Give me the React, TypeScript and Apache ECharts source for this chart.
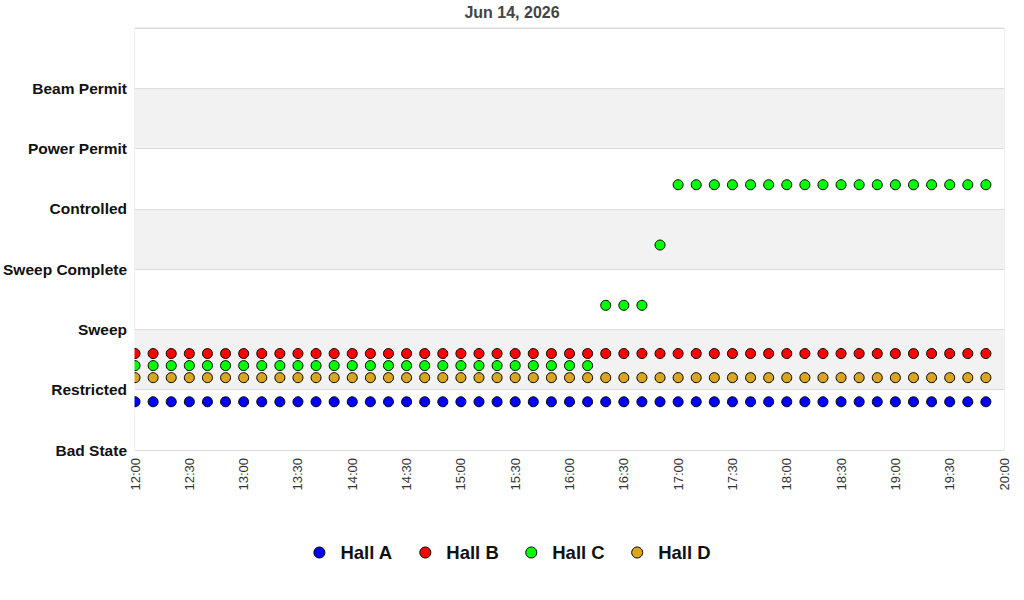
import React, { useEffect, useRef } from "react";
import * as echarts from "echarts";

const title = "Jun 14, 2026";
const stateNames = ["Bad State", "Restricted", "Sweep", "Sweep Complete", "Controlled", "Power Permit", "Beam Permit"];
const times = [
  "12:00", "12:10", "12:20", "12:30", "12:40", "12:50",
  "13:00", "13:10", "13:20", "13:30", "13:40", "13:50",
  "14:00", "14:10", "14:20", "14:30", "14:40", "14:50",
  "15:00", "15:10", "15:20", "15:30", "15:40", "15:50",
  "16:00", "16:10", "16:20", "16:30", "16:40", "16:50",
  "17:00", "17:10", "17:20", "17:30", "17:40", "17:50",
  "18:00", "18:10", "18:20", "18:30", "18:40", "18:50",
  "19:00", "19:10", "19:20", "19:30", "19:40", "19:50",
];
// state index per time (1 = Restricted, 2 = Sweep, 3 = Sweep Complete, 4 = Controlled)
const hallA = [
  1, 1, 1, 1, 1, 1, 1, 1, 1, 1, 1, 1,
  1, 1, 1, 1, 1, 1, 1, 1, 1, 1, 1, 1,
  1, 1, 1, 1, 1, 1, 1, 1, 1, 1, 1, 1,
  1, 1, 1, 1, 1, 1, 1, 1, 1, 1, 1, 1,
];
const hallB = [
  1, 1, 1, 1, 1, 1, 1, 1, 1, 1, 1, 1,
  1, 1, 1, 1, 1, 1, 1, 1, 1, 1, 1, 1,
  1, 1, 1, 1, 1, 1, 1, 1, 1, 1, 1, 1,
  1, 1, 1, 1, 1, 1, 1, 1, 1, 1, 1, 1,
];
const hallC = [
  1, 1, 1, 1, 1, 1, 1, 1, 1, 1, 1, 1,
  1, 1, 1, 1, 1, 1, 1, 1, 1, 1, 1, 1,
  1, 1, 2, 2, 2, 3, 4, 4, 4, 4, 4, 4,
  4, 4, 4, 4, 4, 4, 4, 4, 4, 4, 4, 4,
];
const hallD = [
  1, 1, 1, 1, 1, 1, 1, 1, 1, 1, 1, 1,
  1, 1, 1, 1, 1, 1, 1, 1, 1, 1, 1, 1,
  1, 1, 1, 1, 1, 1, 1, 1, 1, 1, 1, 1,
  1, 1, 1, 1, 1, 1, 1, 1, 1, 1, 1, 1,
];

const halls = [
  { name: "Hall A", states: hallA, offset: -0.2, color: "#0000ff" },
  { name: "Hall B", states: hallB, offset: 0.6, color: "#ff0000" },
  { name: "Hall C", states: hallC, offset: 0.4, color: "#00ff00" },
  { name: "Hall D", states: hallD, offset: 0.2, color: "#daa520" },
];

const toMin = (t: string) => {
  const [h, m] = t.split(":").map(Number);
  return h * 60 + m;
};
const fmt = (v: number) => {
  const h = Math.floor(v / 60);
  const m = v % 60;
  return `${h}:${m < 10 ? "0" + m : m}`;
};

export default function App() {
  const ref = useRef<HTMLDivElement>(null);
  useEffect(() => {
    document.body.style.margin = "0";
    const chart = echarts.init(ref.current!, null, { renderer: "svg" });
    const font = "'Liberation Sans', Arial, sans-serif";
    chart.setOption({
      animation: false,
      title: {
        text: title,
        left: "center",
        top: -1,
        textStyle: { fontFamily: font, fontSize: 16, fontWeight: "bold", color: "#444" },
      },
      grid: {
        left: 135,
        right: 20,
        top: 28,
        bottom: 150,
        show: true,
        borderColor: "#dddddd",
        borderWidth: 1,
        backgroundColor: "transparent",
      },
      graphic: [
        {
          type: "rect",
          z: 100,
          shape: { x: 128, y: 330, width: 6.5, height: 80 },
          style: { fill: "#ffffff" },
          silent: true,
        },
      ],
      legend: {
        bottom: 33,
        left: "center",
        icon: "circle",
        itemWidth: 11,
        itemHeight: 11,
        itemGap: 26.5,
        textStyle: { fontFamily: font, fontSize: 18.5, fontWeight: "bold", color: "#111", padding: [0, 0, 0, 10.5] },
        data: halls.map((h) => ({
          name: h.name,
          itemStyle: { color: h.color, borderColor: "#000", borderWidth: 1 },
        })),
      },
      xAxis: {
        type: "value",
        min: 720,
        max: 1200,
        interval: 30,
        axisLine: { show: false },
        axisTick: { show: false },
        splitLine: { show: false },
        axisLabel: {
          rotate: 90,
          margin: 8,
          fontFamily: font,
          fontSize: 13,
          color: "#333",
          formatter: (v: number) => fmt(v),
          showMinLabel: true,
          showMaxLabel: true,
        },
      },
      yAxis: {
        type: "value",
        min: 0,
        max: 7,
        interval: 1,
        axisLine: { show: false },
        axisTick: { show: false },
        splitLine: { show: true, lineStyle: { color: "#dddddd", width: 1 } },
        splitArea: { show: true, areaStyle: { color: ["#ffffff", "#f2f2f2"] } },
        axisLabel: {
          margin: 8,
          fontFamily: font,
          fontSize: 15.5,
          fontWeight: "bold",
          color: "#111",
          formatter: (v: number) => stateNames[v] ?? "",
        },
      },
      series: halls.map((h) => ({
        name: h.name,
        type: "scatter",
        symbol: "circle",
        symbolSize: 10,
        clip: true,
        z: 2,
        itemStyle: { color: h.color, borderColor: "#000", borderWidth: 1, opacity: 1 },
        data: h.states.map((s, i) => [toMin(times[i]), s + h.offset]),
      })),
    });
    return () => chart.dispose();
  }, []);
  return <div ref={ref} style={{ position: "absolute", left: 0, top: 0, width: 1024, height: 600 }} />;
}
